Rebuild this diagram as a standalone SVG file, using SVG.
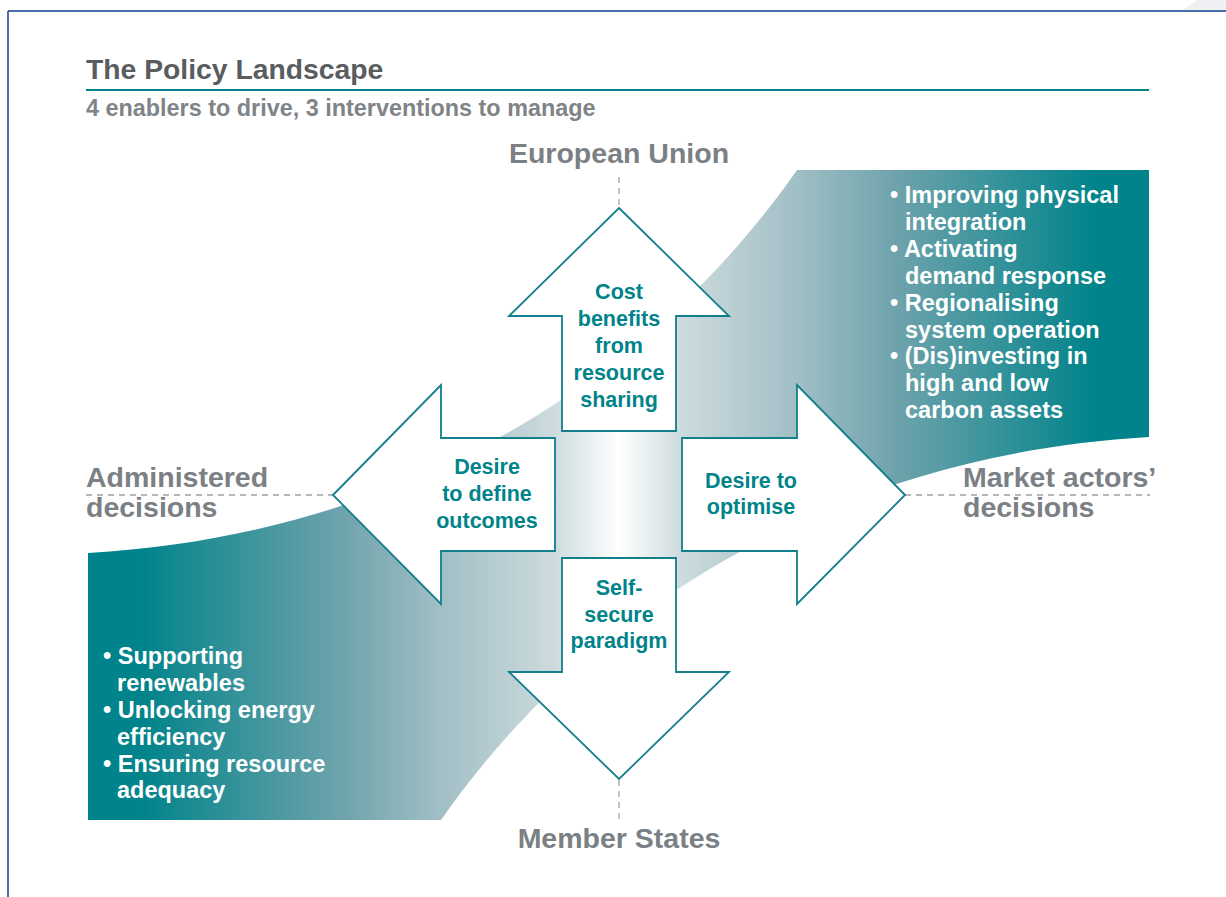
<svg xmlns="http://www.w3.org/2000/svg" width="1226" height="897" viewBox="0 0 1226 897">
<defs>
<linearGradient id="band" gradientUnits="userSpaceOnUse" x1="88" y1="0" x2="1149" y2="0">
<stop offset="0" stop-color="#00838a"/>
<stop offset="0.05" stop-color="#00838a"/>
<stop offset="0.24" stop-color="#6fa3ac"/>
<stop offset="0.33" stop-color="#a0bec5"/>
<stop offset="0.44" stop-color="#cddbde"/>
<stop offset="0.5" stop-color="#ffffff"/>
<stop offset="0.56" stop-color="#cddbde"/>
<stop offset="0.67" stop-color="#a0bec5"/>
<stop offset="0.76" stop-color="#6fa3ac"/>
<stop offset="0.95" stop-color="#00838a"/>
<stop offset="1" stop-color="#00838a"/>
</linearGradient>
<style>
text{font-family:"Liberation Sans",Arial,sans-serif;font-weight:bold}
.title{font-size:28.3px;fill:#595d60}
.sub{font-size:23.4px;fill:#7f8488}
.axis{font-size:28.5px;fill:#7b8084}
.bul{font-size:23.5px;fill:#ffffff}
.lab{font-size:21.5px;fill:#00838a;text-anchor:middle}
.arrow{fill:#ffffff;stroke:#137e8c;stroke-width:1.8;stroke-linejoin:miter}
.dash{stroke:#a0a0a0;stroke-width:1.3;stroke-dasharray:6 5;fill:none}
</style>
</defs>
<rect x="0" y="0" width="1226" height="897" fill="#ffffff"/>
<polygon points="1182,11 1197,0 1226,0 1226,11" fill="#eef0f3"/>
<line x1="8" y1="11" x2="1226" y2="11" stroke="#4a6ea8" stroke-width="2"/>
<line x1="8" y1="11" x2="8" y2="897" stroke="#1f3e8c" stroke-width="1.5"/>

<g id="header">
<text class="title" x="86" y="79">The Policy Landscape</text>
<line x1="86" y1="90" x2="1149" y2="90" stroke="#00838a" stroke-width="2"/>
<text class="sub" x="86" y="116">4 enablers to drive, 3 interventions to manage</text>
</g>

<g id="band">
<path d="M88,553 C400,535 647,385 797,170 L1149,170 L1149,437 C838,455 591,605 441,820 L88,820 Z" fill="url(#band)"/>
</g>

<g id="connectors">
<line class="dash" x1="86" y1="495" x2="333" y2="495"/>
<line class="dash" x1="905" y1="495" x2="1150" y2="495"/>
<line class="dash" x1="619" y1="177" x2="619" y2="208"/>
<line class="dash" x1="619" y1="780" x2="619" y2="822"/>
</g>

<g id="axis-labels">
<text class="axis" x="619" y="163" text-anchor="middle">European Union</text>
<text class="axis" x="619" y="848" text-anchor="middle">Member States</text>
<text class="axis" x="86" y="487">Administered</text>
<text class="axis" x="86" y="517">decisions</text>
<text class="axis" x="963" y="487">Market actors’</text>
<text class="axis" x="963" y="517">decisions</text>
</g>

<g id="arrow-up">
<path class="arrow" d="M619,208 L729,316 L676,316 L676,431 L562,431 L562,316 L509,316 Z"/>
<text class="lab" x="619" y="299">Cost</text>
<text class="lab" x="619" y="326">benefits</text>
<text class="lab" x="619" y="353">from</text>
<text class="lab" x="619" y="380">resource</text>
<text class="lab" x="619" y="407">sharing</text>
</g>

<g id="arrow-down">
<path class="arrow" d="M562,558 L676,558 L676,672 L729,672 L619,779 L509,672 L562,672 Z"/>
<text class="lab" x="619" y="595">Self-</text>
<text class="lab" x="619" y="622">secure</text>
<text class="lab" x="619" y="648">paradigm</text>
</g>

<g id="arrow-left">
<path class="arrow" d="M333,495 L441,385 L441,438 L555,438 L555,551 L441,551 L441,604 Z"/>
<text class="lab" x="487" y="474">Desire</text>
<text class="lab" x="487" y="501">to define</text>
<text class="lab" x="487" y="528">outcomes</text>
</g>

<g id="arrow-right">
<path class="arrow" d="M905,495 L797,385 L797,438 L682,438 L682,551 L797,551 L797,604 Z"/>
<text class="lab" x="751" y="488">Desire to</text>
<text class="lab" x="751" y="514">optimise</text>
</g>

<g id="market-list">
<text class="bul" x="890" y="203">• Improving physical</text>
<text class="bul" x="905" y="230">integration</text>
<text class="bul" x="890" y="257">• Activating</text>
<text class="bul" x="905" y="284">demand response</text>
<text class="bul" x="890" y="311">• Regionalising</text>
<text class="bul" x="905" y="338">system operation</text>
<text class="bul" x="890" y="364">• (Dis)investing in</text>
<text class="bul" x="905" y="391">high and low</text>
<text class="bul" x="905" y="418">carbon assets</text>
</g>

<g id="administered-list">
<text class="bul" x="103" y="664">• Supporting</text>
<text class="bul" x="117" y="691">renewables</text>
<text class="bul" x="103" y="718">• Unlocking energy</text>
<text class="bul" x="117" y="745">efficiency</text>
<text class="bul" x="103" y="772">• Ensuring resource</text>
<text class="bul" x="117" y="798">adequacy</text>
</g>
</svg>
